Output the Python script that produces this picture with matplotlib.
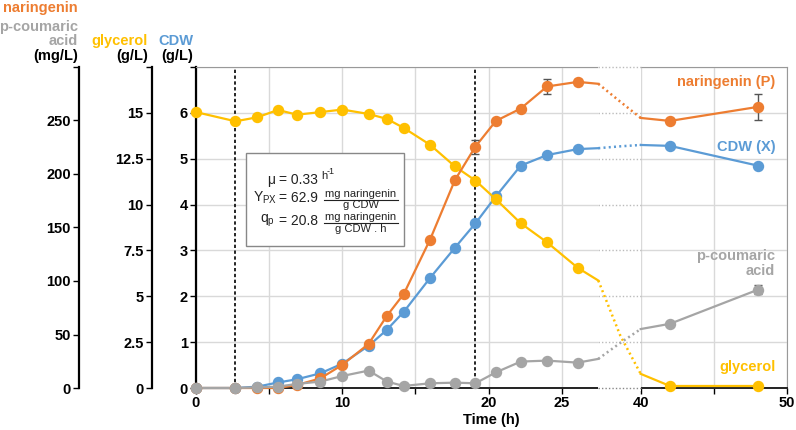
import numpy as np
import matplotlib.pyplot as plt
from matplotlib.patches import Rectangle
from matplotlib.lines import Line2D
from matplotlib.transforms import blended_transform_factory

plt.rcParams["font.family"] = ["Liberation Sans", "DejaVu Sans"]
plt.rcParams["mathtext.fontset"] = "custom"
plt.rcParams["mathtext.rm"] = "Liberation Sans"
plt.rcParams["mathtext.it"] = "Liberation Sans:italic"
plt.rcParams["mathtext.bf"] = "Liberation Sans:bold"
plt.rcParams["mathtext.default"] = "regular"

# === data ===
time_h = [0, 2.7, 4.2, 5.6, 6.9, 8.5, 10.0, 11.8, 13.05, 14.2, 16.0, 17.7,
          19.1, 20.5, 22.2, 24.0, 26.1, 42.0, 48.0]
glycerol = [15.04, 14.54, 14.76, 15.16, 14.9, 15.04, 15.18, 14.94, 14.67, 14.18,
            13.26, 12.08, 11.31, 10.29, 8.98, 7.94, 6.55, 0.11, 0.11]
cdw = [0, 0, 0.03, 0.12, 0.19, 0.32, 0.53, 0.92, 1.27, 1.66, 2.40, 3.06,
       3.59, 4.18, 4.85, 5.08, 5.21, 5.28, 4.85]
naringenin = [0, 0, 0, 0, 2.8, 9, 21.6, 41.2, 67.5, 87.8, 138.7, 194.3,
              225.6, 249.6, 261.2, 281.8, 286.1, 249.6, 262.7]
naringenin_err = [0, 0, 0, 0, 0, 0, 0, 0, 0, 0, 0, 0,
                  6.5, 2, 0, 7, 3, 2, 12]
coumaric = [0, 0, 0.5, 1.3, 3.8, 6, 11.2, 16.3, 6, 1.9, 4.4, 5,
            4.4, 14.6, 24.7, 25.6, 23.7, 60, 91.8]
coumaric_err = [0] * 18 + [4]

# overnight gap (no samples), drawn dotted
gap_t = [27.5, 34.0, 40.0]
glycerol_gap = [5.86, 2.85, 0.77]
cdw_gap = [5.23, 5.27, 5.30]
naringenin_gap = [284.3, 267.5, 252.4]
coumaric_gap = [27.2, 42.2, 55.1]

phase_lines = [2.7, 19.1]

x_ticks = [0, 5, 10, 15, 20, 25, 40, 45, 50]
x_labels = ["0", "", "10", "", "20", "25", "40", "", "50"]

ORANGE = "#ED7D31"
BLUE = "#5B9BD5"
GREY = "#A5A5A5"
YELLOW = "#FFC000"

T_A, T_B, GAP = 27.5, 40.0, 2.9


def xmap(t):
    t = np.asarray(t, dtype=float)
    mid = T_A + (t - T_A) * GAP / (T_B - T_A)
    return np.where(t <= T_A, t, np.where(t >= T_B, t - T_B + T_A + GAP, mid))


def draw_series(a, vals, gap_vals, color, err=None):
    t = np.array(time_h)
    v = np.array(vals)
    first = t < T_A
    second = t > T_B
    kw = dict(color=color, lw=1.6, zorder=3, clip_on=False)
    a.plot(xmap(np.r_[t[first], T_A]), np.r_[v[first], gap_vals[0]], "-", **kw)
    a.plot(xmap(gap_t), gap_vals, linestyle=(0, (0.8, 1.3)), color=color, lw=1.8,
           zorder=3)
    a.plot(xmap(np.r_[T_B, t[second]]), np.r_[gap_vals[-1], v[second]], "-", **kw)
    if err is not None:
        e = np.array(err)
        m = e > 0
        a.errorbar(xmap(t[m]), v[m], yerr=e[m], fmt="none", ecolor="#555555",
                   elinewidth=1, capsize=3, capthick=1, zorder=4)
    a.plot(xmap(t), v, "o", color=color, markersize=7.2, zorder=5, clip_on=False)


W, H = 796, 430
fig = plt.figure(figsize=(W / 100, H / 100), dpi=100)
ax = fig.add_axes([196 / W, 42 / H, 591 / W, 321 / H])


def fig_px(x, y):
    return x / W, 1 - y / H


YTOP = 7.0
ax.set_xlim(0, float(xmap(50)))
ax.set_ylim(0, YTOP)
ax.set_xticks(xmap(x_ticks))
ax.set_xticklabels(x_labels)
ax.set_yticks(range(0, 8))
ax.set_yticklabels([str(i) for i in range(0, 7)] + [""])
ax.grid(True, color="#d9d9d9", lw=1)
ax.tick_params(labelsize=10.5, width=1, length=4, pad=2)
for lab in ax.get_xticklabels() + ax.get_yticklabels():
    lab.set_fontweight("bold")
ax.spines["left"].set_linewidth(1.6)
ax.spines["bottom"].set_linewidth(1.4)
ax.spines["bottom"].set_color("#222222")
ax.spines["top"].set_color("#999999")
ax.spines["right"].set_color("#999999")
ax.set_xlabel("Time (h)", fontsize=10.5, fontweight="bold", labelpad=2)

# break region
trans = blended_transform_factory(ax.transData, ax.transAxes)
ax.add_patch(Rectangle((float(xmap(T_A)), -0.01), GAP, 1.02, transform=trans,
                       facecolor="white", edgecolor="none", zorder=2.6,
                       clip_on=False))
for yv in range(0, 8):
    ax.plot([xmap(T_A), xmap(T_B)], [yv, yv], linestyle=(0, (1, 1.5)),
            color="#bbbbbb" if yv else "#888888", lw=1, zorder=2.7,
            clip_on=False)

for tp in phase_lines:
    ax.axvline(float(xmap(tp)), color="black", lw=1.2,
               linestyle=(0, (2, 1.5)), zorder=2)

# glycerol axis
ax_g = ax.twinx()
ax_g.set_ylim(0, YTOP * 2.5)
# naringenin / p-coumaric acid axis
ax_m = ax.twinx()
ax_m.set_ylim(0, YTOP * 300 / 7)

for a, off, ticks, labels in [
    (ax_g, -44 / 591, [0, 2.5, 5, 7.5, 10, 12.5, 15, 17.5],
     ["0", "2.5", "5", "7.5", "10", "12.5", "15", ""]),
    (ax_m, -117 / 591, [0, 50, 100, 150, 200, 250, 300],
     ["0", "50", "100", "150", "200", "250", ""]),
]:
    for s in ["top", "right", "bottom"]:
        a.spines[s].set_visible(False)
    a.spines["left"].set_visible(True)
    a.spines["left"].set_position(("axes", off))
    a.spines["left"].set_linewidth(1.6)
    a.yaxis.set_ticks_position("left")
    a.yaxis.set_label_position("left")
    a.set_yticks(ticks)
    a.set_yticklabels(labels)
    a.tick_params(labelsize=10.5, width=1, length=4, pad=2)
    for lab in a.get_yticklabels():
        lab.set_fontweight("bold")

draw_series(ax, cdw, cdw_gap, BLUE)
draw_series(ax_m, naringenin, naringenin_gap, ORANGE, naringenin_err)
draw_series(ax_m, coumaric, coumaric_gap, GREY, coumaric_err)
draw_series(ax_g, glycerol, glycerol_gap, YELLOW)

# series labels on the right
lab_kw = dict(ha="right", va="center", fontsize=10.5, fontweight="bold")
ax.text(39.6, 6.68, "naringenin (P)", color=ORANGE, **lab_kw)
ax.text(39.6, 5.26, "CDW (X)", color=BLUE, **lab_kw)
ax.text(39.6, 2.72, "p-coumaric\nacid", color=GREY, linespacing=1.05, **lab_kw)
ax.text(39.6, 0.46, "glycerol", color=YELLOW, **lab_kw)

# axis headers
hd = dict(ha="right", va="center", fontsize=10.5, fontweight="bold")
fig.text(*fig_px(78, 8), "naringenin", color=ORANGE, **hd)
fig.text(*fig_px(78, 27), "p-coumaric", color=GREY, **hd)
fig.text(*fig_px(78, 41), "acid", color=GREY, **hd)
fig.text(*fig_px(78, 56), "(mg/L)", color="black", **hd)
fig.text(*fig_px(148, 41), "glycerol", color=YELLOW, **hd)
fig.text(*fig_px(148, 56), "(g/L)", color="black", **hd)
fig.text(*fig_px(193, 41), "CDW", color=BLUE, **hd)
fig.text(*fig_px(193, 56), "(g/L)", color="black", **hd)

# parameter box
x0, y0 = fig_px(246, 246)
x1, y1 = fig_px(404, 153)
fig.add_artist(Rectangle((x0, y0), x1 - x0, y1 - y0, transform=fig.transFigure,
                         facecolor="white", edgecolor="#888888", lw=1, zorder=5))
ink = "#222222"
bx = dict(fontsize=10, va="center", zorder=6, color=ink)
sm = dict(fontsize=8, va="center", ha="center", zorder=6, color=ink)


def frac(xc, yc, top, bottom, x_from, x_to):
    fig.text(*fig_px(xc, yc - 5.5), top, **sm)
    fig.text(*fig_px(xc, yc + 6), bottom, **sm)
    fig.add_artist(Line2D([x_from / W, x_to / W], [1 - yc / H, 1 - yc / H],
                          transform=fig.transFigure, color=ink, lw=0.8,
                          zorder=6))


fig.text(*fig_px(275, 180), "\u03bc", ha="right", **bx)
fig.text(*fig_px(279, 180), "= 0.33", ha="left", **bx)
fig.text(*fig_px(321, 176), "h", ha="left", fontsize=8, va="center",
         zorder=6, color=ink)
fig.text(*fig_px(326.5, 171), "-1", ha="left", fontsize=6.5, va="center",
         zorder=6, color=ink)

fig.text(*fig_px(277, 198), r"$Y_{PX}$", ha="right", **bx)
fig.text(*fig_px(279, 198), "= 62.9", ha="left", **bx)
frac(361, 199.5, "mg naringenin", "g CDW", 324, 398)

fig.text(*fig_px(275, 221), r"$q_p$", ha="right", **bx)
fig.text(*fig_px(279, 221), "= 20.8", ha="left", **bx)
frac(361, 223, "mg naringenin", "g CDW . h", 324, 398)

fig.savefig("out.png", dpi=100)
